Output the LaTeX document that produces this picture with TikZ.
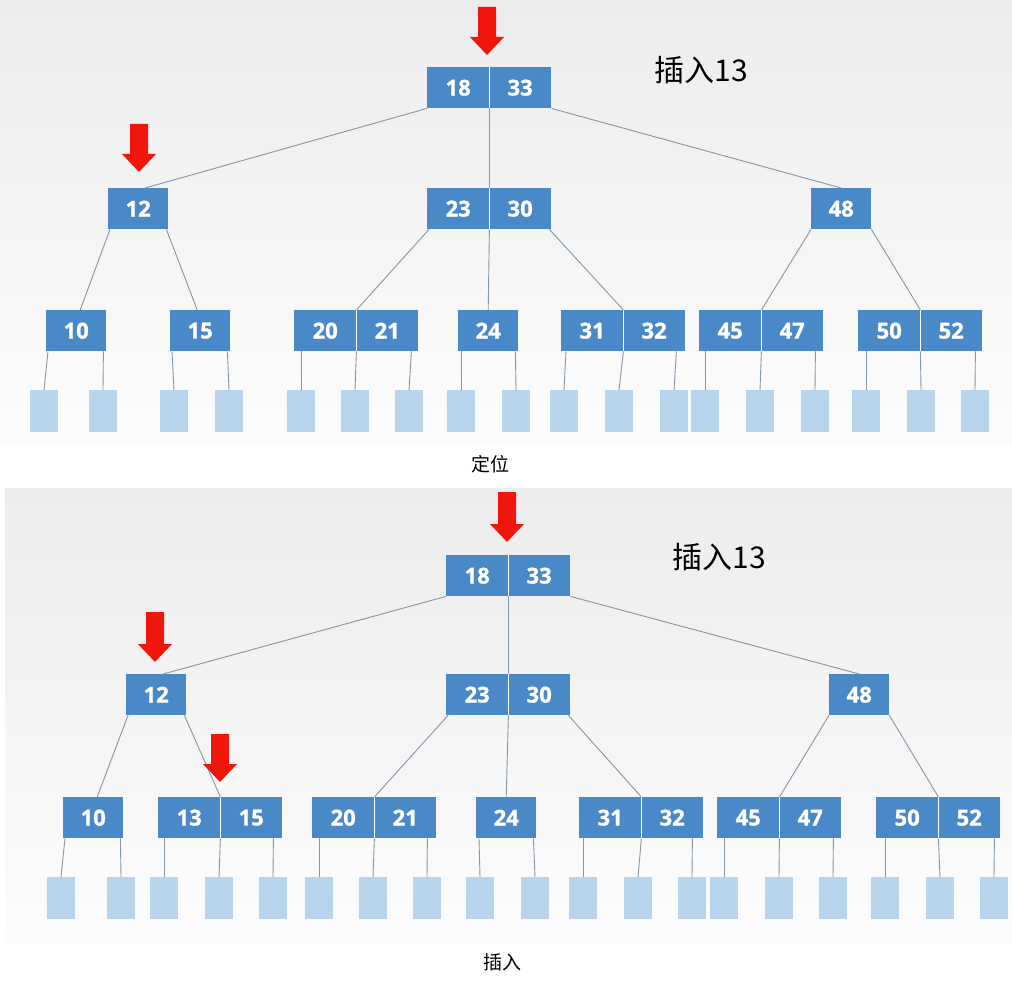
\documentclass[tikz,border=0pt]{standalone}
\usepackage{fontspec}
\newfontfamily\numfont{Open Sans}[BoldFeatures={FakeBold=1.2}]
\newfontfamily\cjk{Noto Sans CJK SC}
\definecolor{keyblue}{RGB}{74,137,200}
\definecolor{leafblue}{RGB}{184,212,236}
\definecolor{edgegray}{RGB}{130,150,170}
\definecolor{arrowred}{RGB}{240,22,12}
\definecolor{bgtop}{RGB}{236,236,236}
\definecolor{bgbot}{RGB}{252,252,252}
\tikzset{
  keycell/.style={rectangle, fill=keyblue, minimum width=62pt, minimum height=41pt, inner sep=0pt, anchor=north west, text=white, font=\numfont\bfseries\fontsize{22}{22}\selectfont},
  onekey/.style={keycell, minimum width=60pt},
  leafbox/.style={rectangle, fill=leafblue, minimum width=28pt, minimum height=42pt, inner sep=0pt, anchor=north},
  edge/.style={draw=edgegray, line width=0.9pt},
  divider/.style={draw=white, line width=1.3pt},
  title/.style={font=\cjk\fontsize{30}{30}\selectfont, text=black},
  caption/.style={font=\cjk\fontsize{19}{19}\selectfont, text=black}
}
\newcommand{\twokey}[5]{%
  \node[keycell] (#1a) at (#2,#3) {#4};
  \node[keycell] (#1b) at (#2+62,#3) {#5};
  \draw[divider] (#1a.north east) -- (#1a.south east);}
\newcommand{\redarrow}[3]{%
  \fill[arrowred] (#1-9,#2) -- (#1+9,#2) -- (#1+9,#3-18) -- (#1+17,#3-18) -- (#1,#3) -- (#1-17,#3-18) -- (#1-9,#3-18) -- cycle;}
\begin{document}
\begin{tikzpicture}[x=1pt,y=-1pt]
\useasboundingbox (0,0) rectangle (1012,995);
% backgrounds
\shade[top color=bgtop, bottom color=bgbot] (0,0) rectangle (1012,445);
\shade[top color=bgtop, bottom color=bgbot] (5,488) rectangle (1012,942);

% ================= TOP PANEL =================
\twokey{tr}{427}{67}{18}{33}
\node[onekey] (t12) at (108,188) {12};
\twokey{tm}{427}{188}{23}{30}
\node[onekey] (t48) at (811,188) {48};
\node[onekey] (t10) at (46,310) {10};
\node[onekey] (t15) at (170,310) {15};
\twokey{ta}{294}{310}{20}{21}
\node[onekey] (t24) at (458,310) {24};
\twokey{tb}{561}{310}{31}{32}
\twokey{tc}{699}{310}{45}{47}
\twokey{td}{858}{310}{50}{52}
\foreach \n/\x in {1/44,2/103,3/174,4/229,5/301,6/355,7/409,8/461,9/516,10/564,11/619,12/674,13/705,14/760,15/815,16/866,17/921,18/975}
  \node[leafbox] (tl\n) at (\x,390) {};

\draw[edge] (tra.south west) -- ([xshift=7pt]t12.north);
\draw[edge] (tra.south east) -- (tma.north east);
\draw[edge] (trb.south east) -- (t48.north);
\draw[edge] ([xshift=2pt]t12.south west) -- ([xshift=4pt]t10.north);
\draw[edge] ([xshift=-2pt]t12.south east) -- ([xshift=-3pt]t15.north);
\draw[edge] ([xshift=2pt]tma.south west) -- (taa.north east);
\draw[edge] (tma.south east) -- (t24.north);
\draw[edge] ([xshift=-2pt]tmb.south east) -- (tba.north east);
\draw[edge] (t48.south west) -- (tca.north east);
\draw[edge] (t48.south east) -- (tda.north east);
% leaves
\draw[edge] ([xshift=2pt]t10.south west) -- (tl1.north);
\draw[edge] ([xshift=-3pt]t10.south east) -- (tl2.north);
\draw[edge] ([xshift=2pt]t15.south west) -- (tl3.north);
\draw[edge] ([xshift=-3pt]t15.south east) -- (tl4.north);
\draw[edge] ([xshift=7pt]taa.south west) -- (tl5.north);
\draw[edge] (taa.south east) -- (tl6.north);
\draw[edge] ([xshift=-7pt]tab.south east) -- (tl7.north);
\draw[edge] ([xshift=3pt]t24.south west) -- (tl8.north);
\draw[edge] ([xshift=-3pt]t24.south east) -- (tl9.north);
\draw[edge] ([xshift=5pt]tba.south west) -- (tl10.north);
\draw[edge] (tba.south east) -- (tl11.north);
\draw[edge] ([xshift=-9pt]tbb.south east) -- (tl12.north);
\draw[edge] ([xshift=6pt]tca.south west) -- (tl13.north);
\draw[edge] (tca.south east) -- (tl14.north);
\draw[edge] ([xshift=-8pt]tcb.south east) -- (tl15.north);
\draw[edge] ([xshift=8pt]tda.south west) -- (tl16.north);
\draw[edge] (tda.south east) -- (tl17.north);
\draw[edge] ([xshift=-7pt]tdb.south east) -- (tl18.north);

\redarrow{487}{7}{55}
\redarrow{139}{124}{172}
\node[title, anchor=west] (ttitle) at (651,70) {插入13};
\node[caption] (tcap) at (490,464) {定位};

% ================= BOTTOM PANEL =================
\twokey{br}{446}{555}{18}{33}
\node[onekey] (b12) at (126,674) {12};
\twokey{bm}{446}{674}{23}{30}
\node[onekey] (b48) at (829,674) {48};
\node[onekey] (b10) at (63,797) {10};
\twokey{be}{158}{797}{13}{15}
\twokey{ba}{312}{797}{20}{21}
\node[onekey] (b24) at (476,797) {24};
\twokey{bb}{579}{797}{31}{32}
\twokey{bc}{717}{797}{45}{47}
\twokey{bd}{876}{797}{50}{52}
\foreach \n/\x in {1/61,2/121,3/164,4/219,5/273,6/319,7/373,8/427,9/480,10/535,11/583,12/638,13/692,14/724,15/779,16/833,17/885,18/940,19/994}
  \node[leafbox] (bl\n) at (\x,877) {};

\draw[edge] (bra.south west) -- ([xshift=7pt]b12.north);
\draw[edge] (bra.south east) -- (bma.north east);
\draw[edge] (brb.south east) -- (b48.north);
\draw[edge] ([xshift=2pt]b12.south west) -- ([xshift=4pt]b10.north);
\draw[edge] ([xshift=-2pt]b12.south east) -- (bea.north east);
\draw[edge] ([xshift=2pt]bma.south west) -- (baa.north east);
\draw[edge] (bma.south east) -- (b24.north);
\draw[edge] ([xshift=-2pt]bmb.south east) -- (bba.north east);
\draw[edge] (b48.south west) -- (bca.north east);
\draw[edge] (b48.south east) -- (bda.north east);
% leaves
\draw[edge] ([xshift=2pt]b10.south west) -- (bl1.north);
\draw[edge] ([xshift=-3pt]b10.south east) -- (bl2.north);
\draw[edge] ([xshift=6pt]bea.south west) -- (bl3.north);
\draw[edge] (bea.south east) -- (bl4.north);
\draw[edge] ([xshift=-9pt]beb.south east) -- (bl5.north);
\draw[edge] ([xshift=7pt]baa.south west) -- (bl6.north);
\draw[edge] (baa.south east) -- (bl7.north);
\draw[edge] ([xshift=-9pt]bab.south east) -- (bl8.north);
\draw[edge] ([xshift=3pt]b24.south west) -- (bl9.north);
\draw[edge] ([xshift=-3pt]b24.south east) -- (bl10.north);
\draw[edge] ([xshift=4pt]bba.south west) -- (bl11.north);
\draw[edge] (bba.south east) -- (bl12.north);
\draw[edge] ([xshift=-11pt]bbb.south east) -- (bl13.north);
\draw[edge] ([xshift=7pt]bca.south west) -- (bl14.north);
\draw[edge] (bca.south east) -- (bl15.north);
\draw[edge] ([xshift=-8pt]bcb.south east) -- (bl16.north);
\draw[edge] ([xshift=9pt]bda.south west) -- (bl17.north);
\draw[edge] (bda.south east) -- (bl18.north);
\draw[edge] ([xshift=-6pt]bdb.south east) -- (bl19.north);

\redarrow{507}{492}{542}
\redarrow{155}{612}{662}
\redarrow{220}{734}{782}
\node[title, anchor=west] (btitle) at (669,557) {插入13};
\node[caption] (bcap) at (502,962) {插入};
\end{tikzpicture}
\end{document}
